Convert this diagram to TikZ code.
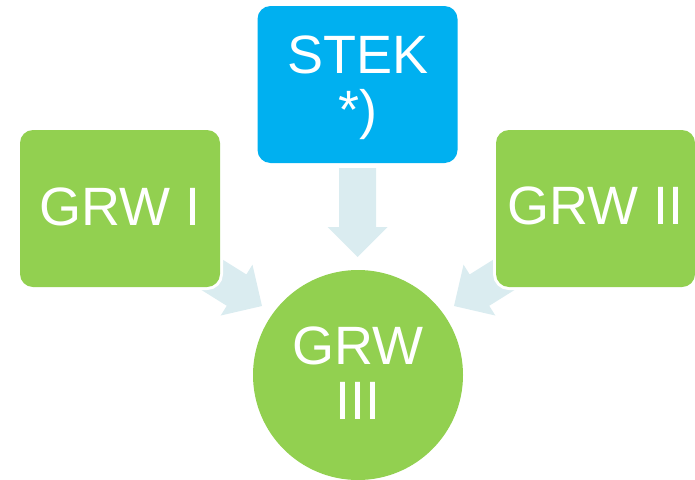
\documentclass[tikz,border=0pt]{standalone}
\usepackage{fontspec}
\setmainfont{Liberation Sans}
\definecolor{leaf}{RGB}{146,208,80}
\definecolor{sky}{RGB}{0,176,240}
\definecolor{mist}{RGB}{218,236,240}
\tikzset{
  panel/.style={rectangle, rounded corners=13pt, fill=#1,
    preaction={draw=white, line width=6pt},
    minimum width=200pt, minimum height=157pt, inner sep=0pt},
  hub/.style={circle, fill=leaf, minimum size=210pt, inner sep=0pt},
  caption/.style={text=white, font=\fontsize{54}{55}\selectfont,
    anchor=base, inner sep=0pt},
}
% broad arrow pointing along +x, tip at the scope origin
\newcommand\fatarrow[1]{%
  \fill[mist] (0,0) -- (-30,30) -- (-30,18.5) -- (-#1,18.5)
    -- (-#1,-18.5) -- (-30,-18.5) -- (-30,-30) -- cycle;}
\begin{document}
\begin{tikzpicture}[x=1pt,y=-1pt]
  \useasboundingbox (0,0) rectangle (695,479);

  % arrows first, so the panels sit on top of their tails
  \begin{scope}[shift={(357.5,257)}, rotate=-90]\fatarrow{89}\end{scope}
  \begin{scope}[shift={(262,306)}, rotate=-32]\fatarrow{100}\end{scope}
  \begin{scope}[shift={(454,306)}, rotate=-148]\fatarrow{100}\end{scope}

  % panels
  \node[panel=sky]  (stek) at (357.5,84.5) {};
  \node[panel=leaf] (grw1) at (120,208.5) {};
  \node[panel=leaf, minimum width=199pt] (grw2) at (595.5,208.5) {};
  \node[hub] (grw3) at (358,375) {};

  % labels
  \node[caption] (stek-a) at (358,73.5) {STEK};
  \node[caption] (stek-b) at (358,128) {*)};
  \node[caption] (grw1-t) at (120,225) {GRW I};
  \node[caption] (grw2-t) at (595.5,224) {GRW II};
  \node[caption] (grw3-a) at (358,364) {GRW};
  \node[caption] (grw3-b) at (358,419) {III};
\end{tikzpicture}
\end{document}
